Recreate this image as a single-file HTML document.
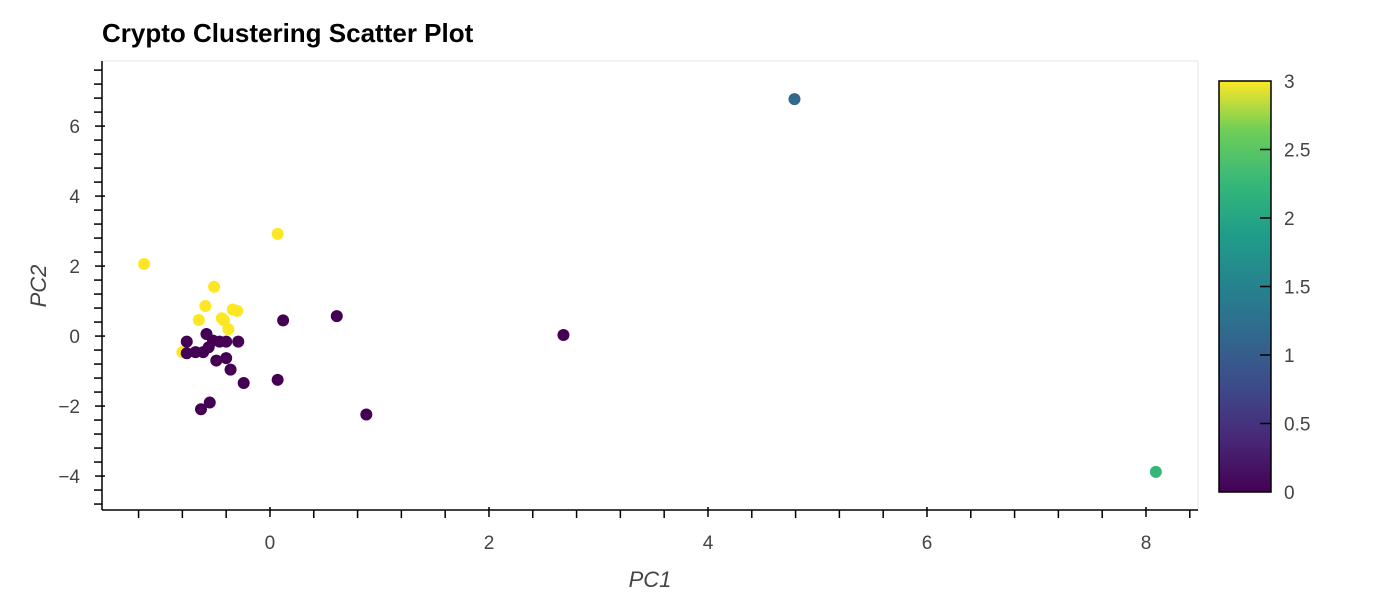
<!DOCTYPE html>
<html><head><meta charset="utf-8"><style>
body{margin:0;background:#fff;font-family:"Liberation Sans",sans-serif}
</style></head><body>
<svg id="c" width="1400" height="600" xmlns="http://www.w3.org/2000/svg">
<defs><linearGradient id="vir" x1="0" y1="1" x2="0" y2="0">
<stop offset="0" stop-color="#440154"/><stop offset="0.13" stop-color="#482878"/><stop offset="0.25" stop-color="#3e4989"/><stop offset="0.38" stop-color="#31688e"/><stop offset="0.5" stop-color="#26828e"/><stop offset="0.63" stop-color="#1f9e89"/><stop offset="0.75" stop-color="#35b779"/><stop offset="0.88" stop-color="#6ece58"/><stop offset="1" stop-color="#fde725"/></linearGradient></defs>
<text x="102" y="42" font-size="26" font-weight="bold" fill="#000">Crypto Clustering Scatter Plot</text>
<rect x="102" y="61" width="1096" height="449" fill="none" stroke="#e5e5e5"/>
<g id="axes"></g><g id="pts"></g>
<rect x="1219" y="81" width="52" height="411" fill="url(#vir)" stroke="#000" stroke-width="1.5"/>
<g id="cb"></g>
<text x="650" y="587" font-size="22" font-style="italic" fill="#444" text-anchor="middle">PC1</text>
<text transform="translate(46,286) rotate(-90)" font-size="22" font-style="italic" fill="#444" text-anchor="middle">PC2</text>
</svg>
<script>
const pc1=[0.07,-1.15,-0.51,-0.59,-0.65,-0.44,-0.42,-0.34,-0.30,-0.38,-0.80,0.12,0.61,2.68,0.88,0.07,-0.58,-0.76,-0.52,-0.46,-0.40,-0.29,-0.76,-0.68,-0.61,-0.56,-0.49,-0.40,-0.36,-0.24,-0.55,-0.63,4.79,8.09];
const pc2=[2.92,2.06,1.41,0.86,0.46,0.51,0.45,0.76,0.72,0.20,-0.46,0.45,0.57,0.03,-2.24,-1.25,0.06,-0.16,-0.13,-0.16,-0.16,-0.16,-0.49,-0.46,-0.46,-0.32,-0.70,-0.63,-0.96,-1.34,-1.90,-2.09,6.77,-3.88];
const cls=[3,3,3,3,3,3,3,3,3,3,3,0,0,0,0,0,0,0,0,0,0,0,0,0,0,0,0,0,0,0,0,0,1,2];
const xTicks=[0,2,4,6,8];
const yTicks=[-4,-2,0,2,4,6];
const cbTicks=[0,0.5,1,1.5,2,2.5,3];
const NS='http://www.w3.org/2000/svg';
const X0=102,X1=1198,Y0=61,Y1=510,xmin=-1.534,xmax=8.475,ymin=-4.97,ymax=7.86;
const sx=v=>X0+(v-xmin)/(xmax-xmin)*(X1-X0);
const sy=v=>Y1-(v-ymin)/(ymax-ymin)*(Y1-Y0);
const colors=['#440154','#31688e','#35b779','#fde725'];
function mk(t,a,p){const e=document.createElementNS(NS,t);for(const k in a)e.setAttribute(k,a[k]);(p||document.getElementById('axes')).appendChild(e);return e;}
let l=mk('line',{x1:X0,y1:Y1,x2:X1,y2:Y1,stroke:'#000','stroke-width':1.5});


l=mk('line',{x1:X0,y1:Y0,x2:X0,y2:Y1,stroke:'#000','stroke-width':1.5});


for(let k=-3;k<=21;k++){const v=k*0.4,x=sx(v);if(x<X0||x>X1)continue;const maj=k%5===0;mk('line',{x1:x,y1:Y1-(maj?3:0),x2:x,y2:Y1+(maj?7:8),stroke:'#000','stroke-width':1.5});}
for(let k=-12;k<=19;k++){const v=k*0.4,y=sy(v);if(y<Y0||y>Y1)continue;const maj=k%5===0;mk('line',{x1:X0+(maj?3:0),y1:y,x2:X0-(maj?7:8),y2:y,stroke:'#000','stroke-width':1.5});}
xTicks.forEach(v=>{const t=mk('text',{x:sx(v),y:Y1+39,'font-size':19,fill:'#444','text-anchor':'middle'});t.textContent=v;

});
yTicks.forEach(v=>{const t=mk('text',{x:X0-22,y:sy(v)+7,'font-size':19,fill:'#444','text-anchor':'end'});t.textContent=v<0?'\u2212'+(-v):v;

});
const pts=document.getElementById('pts');
pc1.forEach((v,i)=>{const c=mk('circle',{cx:sx(v),cy:sy(pc2[i]),r:6,fill:colors[cls[i]]},pts);

});
const cb=document.getElementById('cb');
const cy=v=>492-v/3*411;
cbTicks.forEach(v=>{if(v>0&&v<3)mk('line',{x1:1271,y1:cy(v),x2:1260,y2:cy(v),stroke:'#000','stroke-width':1.5},cb);
const t=mk('text',{x:1284,y:cy(v)+7,'font-size':19,fill:'#444'},cb);t.textContent=v;

});
</script>
</body></html>
